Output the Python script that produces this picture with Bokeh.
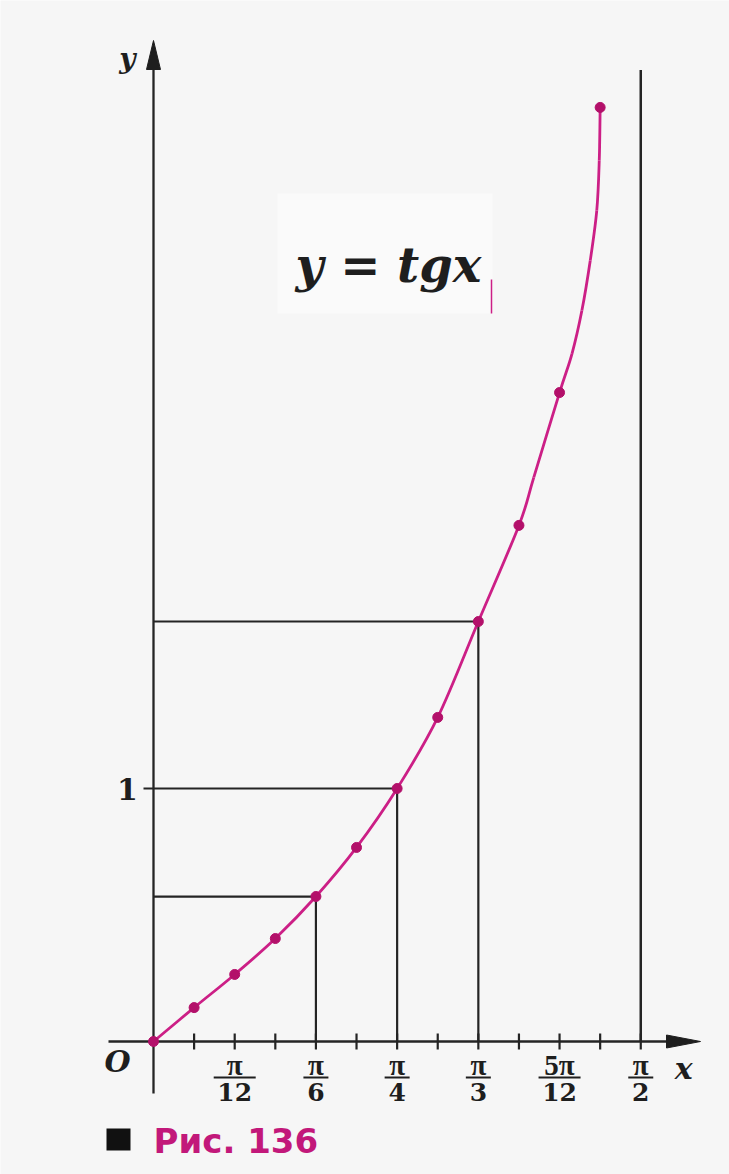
import numpy as np
from bokeh.plotting import figure
from bokeh.models import Range1d
from bokeh.core.properties import value
from bokeh.embed import file_html
from bokeh.resources import INLINE

pi = np.pi

# ---------------- data ----------------
# marked points of y = tg x (x in radians, y in picture units where 1 = the "1" mark)
dot_x = [0, pi/24, pi/12, pi/8, pi/6, 5*pi/24, pi/4, 7*pi/24, pi/3, 3*pi/8, 5*pi/12, 11*pi/24]
dot_y = [0.000, 0.134, 0.265, 0.407, 0.573, 0.767, 1.000, 1.281, 1.660, 2.040, 2.565, 3.692]

# further points read along the drawn curve where the marked points are far apart
between_x = [1.226, 1.349, 1.381, 1.408, 1.429, 1.437]
between_y = [2.230, 2.718, 2.889, 3.087, 3.285, 3.482]

# construction lines: x values and the tg values they reach
ref_x = [pi/6, pi/4, pi/3]
ref_y = [0.573, 1.000, 1.660]

# asymptote x = pi/2 and its drawn height
asym_x = pi/2
asym_top = 3.84

# tick marks on the x axis
tick_x = [pi/24, pi/12, pi/8, pi/6, 5*pi/24, pi/4, 7*pi/24, pi/3, 3*pi/8, 5*pi/12, 11*pi/24, pi/2]

# tick labels (fractions)
label_x = [pi/12, pi/6, pi/4, pi/3, 5*pi/12, pi/2]
label_num = ["π", "π", "π", "π", "5π", "π"]
label_den = ["12", "6", "4", "3", "12", "2"]

# ---------------- layout helpers (pixel -> data) ----------------
W, H = 729, 1174
OX, OY = 153, 1041            # origin in pixels
SX, SY = 310.2, 253.0         # pixels per radian / per unit


def X(px):
    return (px - OX) / SX


def Y(py):
    return (OY - py) / SY


p = figure(width=W, height=H, output_backend="svg", toolbar_location=None,
           x_range=Range1d(X(0), X(W)), y_range=Range1d(Y(H), Y(0)),
           min_border=0, outline_line_color=None,
           background_fill_color="#f6f6f6", border_fill_color="#f6f6f6")
p.axis.visible = False
p.grid.visible = False

INK = "#242424"
MAG = "#cc1f86"
DOT = "#b3106a"
serif = value("DejaVu Serif")

# scan artefact: slightly lighter patch behind the formula, with a thin magenta sliver
p.quad(left=[X(277)], right=[X(492)], top=[Y(193)], bottom=[Y(313)],
       fill_color="#fafafa", line_color=None)
p.segment(x0=[X(491)], y0=[Y(279)], x1=[X(491)], y1=[Y(313)], line_color=MAG, line_width=1.5)

# axes
p.segment(x0=[X(108)], y0=[0], x1=[X(672)], y1=[0], line_color=INK, line_width=2.3)
p.segment(x0=[0], y0=[Y(1093)], x1=[0], y1=[Y(64)], line_color=INK, line_width=2.3)
# arrowheads
p.patches(xs=[[X(700), X(666), X(666)], [0, X(146), X(160)]],
          ys=[[0, Y(1041 - 6.5), Y(1041 + 6.5)], [Y(40), Y(69), Y(69)]],
          fill_color="#1e1e1e", line_color="#1e1e1e", line_width=1)

# ticks
p.scatter(x=tick_x, y=[0] * len(tick_x), marker="dash", angle=pi / 2, size=16,
          line_color=INK, line_width=2.2)
# tick at y = 1
p.segment(x0=[X(143)], y0=[1], x1=[0], y1=[1], line_color=INK, line_width=2.2)

# construction lines
p.segment(x0=ref_x, y0=[0] * len(ref_x), x1=ref_x, y1=ref_y, line_color=INK, line_width=2.2)
p.segment(x0=[0] * len(ref_x), y0=ref_y, x1=ref_x, y1=ref_y, line_color=INK, line_width=2.2)
# asymptote
p.segment(x0=[asym_x], y0=[0], x1=[asym_x], y1=[asym_top], line_color=INK, line_width=2.5)

# smooth curve through all read points (Catmull-Rom drawn with Bezier segments)
cx = np.array(list(dot_x) + list(between_x))
cy = np.array(list(dot_y) + list(between_y))
order = np.argsort(cx)
pts = np.column_stack([cx[order], cy[order]])
n = len(pts)
seg = {"x0": [], "y0": [], "x1": [], "y1": [], "cx0": [], "cy0": [], "cx1": [], "cy1": []}
for i in range(n - 1):
    P0 = pts[max(i - 1, 0)]
    P1 = pts[i]
    P2 = pts[i + 1]
    P3 = pts[min(i + 2, n - 1)]
    c0 = P1 + (P2 - P0) / 6.0
    c1 = P2 - (P3 - P1) / 6.0
    seg["x0"].append(P1[0]); seg["y0"].append(P1[1])
    seg["x1"].append(P2[0]); seg["y1"].append(P2[1])
    seg["cx0"].append(c0[0]); seg["cy0"].append(c0[1])
    seg["cx1"].append(c1[0]); seg["cy1"].append(c1[1])
p.bezier(line_color=MAG, line_width=2.8, **seg)
p.scatter(x=dot_x, y=dot_y, size=10, fill_color=DOT, line_color=DOT)

# fraction labels
num_style = dict(text_font=value("Liberation Serif"), text_font_style="bold", text_font_size="29px",
                 text_align="center", text_baseline="middle", text_color="#1e1e1e")
den_style = dict(text_font=serif, text_font_style="bold", text_font_size="25px",
                 text_align="center", text_baseline="middle", text_color="#1e1e1e")
p.text(x=label_x, y=[0] * len(label_x), text=label_num, y_offset=23, **num_style)
p.text(x=label_x, y=[0] * len(label_x), text=label_den, y_offset=50, **den_style)
bar_w = [8 + 17 * max(len(a), len(b)) for a, b in zip(label_num, label_den)]
p.rect(x=label_x, y=[Y(1077)] * len(label_x), width=bar_w, height=2,
       width_units="screen", height_units="screen", fill_color="#1e1e1e", line_color=None)

# other labels
p.text(x=[0], y=[1], text=["1"], x_offset=-26, text_font=serif, text_font_style="bold",
       text_font_size="30px", text_align="center", text_baseline="middle", text_color="#1e1e1e")
p.text(x=[0], y=[0], text=["O"], x_offset=-36, y_offset=20, text_font=serif,
       text_font_style="bold italic", text_font_size="30px", text_align="center",
       text_baseline="middle", text_color="#1e1e1e")
p.text(x=[asym_x], y=[0], text=["x"], x_offset=43, y_offset=27, text_font=serif,
       text_font_style="bold italic", text_font_size="30px", text_align="center",
       text_baseline="middle", text_color="#1e1e1e")
p.text(x=[0], y=[Y(58)], text=["y"], x_offset=-26, text_font=serif,
       text_font_style="bold italic", text_font_size="28px", text_align="center",
       text_baseline="middle", text_color="#1e1e1e")

# formula
p.text(x=[X(388)], y=[Y(264)], text=["y = tgx"], text_font=serif,
       text_font_style="bold italic", text_font_size="48px", text_align="center",
       text_baseline="alphabetic", text_color="#1e1e1e")

# caption
p.rect(x=[X(118)], y=[Y(1139)], width=24, height=22, width_units="screen",
       height_units="screen", fill_color="#111111", line_color=None)
p.text(x=[X(153)], y=[Y(1140)], text=["Рис. 136"], text_font=value("DejaVu Sans"),
       text_font_style="bold", text_font_size="34px", text_align="left",
       text_baseline="middle", text_color="#c2187a")

open("out.html", "w").write(file_html(p, INLINE))
